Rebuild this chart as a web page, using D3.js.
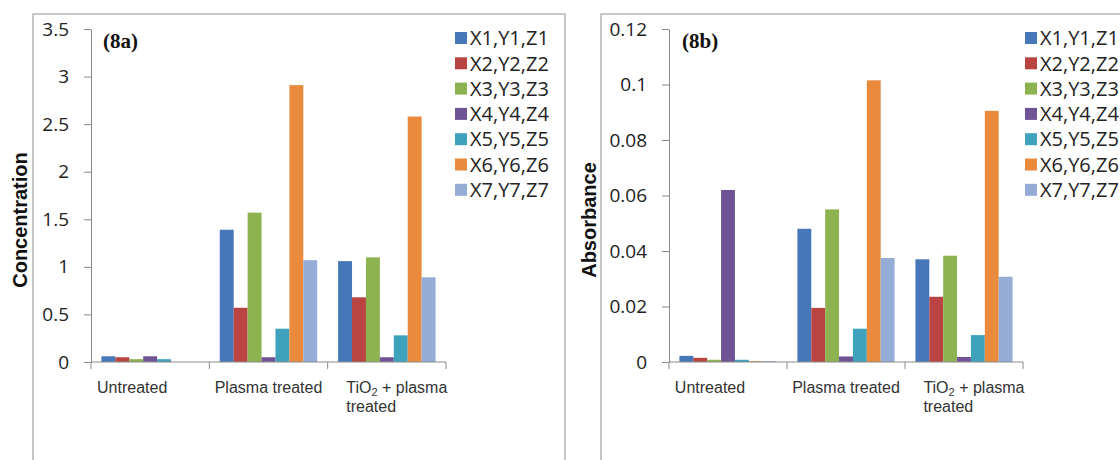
<!DOCTYPE html>
<meta charset="utf-8">
<style>

body {
  margin: 0;
  background: #fff;
}

text {
  font-family: "Open Sans", sans-serif;
}

.tick text {
  font-size: 19px;
  fill: #222;
}

.cat {
  font: 16px "Liberation Sans", Arial, sans-serif;
  fill: #333;
}

.ytitle {
  font: bold 20px "Liberation Sans", Arial, sans-serif;
  fill: #111;
}

.tag {
  font: bold 21px "Liberation Serif", "Times New Roman", serif;
  fill: #111;
}

.legend text {
  font-size: 20px;
  fill: #222;
}

</style>
<body>
<script src="https://cdn.jsdelivr.net/npm/d3@7"></script>
<script>

var categories = ["Untreated", "Plasma treated", "TiO2 + plasma treated"];
var catLines = [["Untreated"], ["Plasma treated"], ["TiO2 + plasma", "treated"]];
var series = ["X1,Y1,Z1", "X2,Y2,Z2", "X3,Y3,Z3", "X4,Y4,Z4", "X5,Y5,Z5", "X6,Y6,Z6", "X7,Y7,Z7"];
var colors = ["#4677b8", "#b94441", "#8db350", "#6f5495", "#3fa2bd", "#ea8a3c", "#94acd6"];

// (8a) concentration, one value per series
var concUntreated = [0.06, 0.05, 0.03, 0.06, 0.03, 0, 0];
var concPlasma    = [1.39, 0.57, 1.57, 0.05, 0.35, 2.91, 1.07];
var concTio2      = [1.06, 0.68, 1.10, 0.05, 0.28, 2.58, 0.89];
var concTicks = [0, 0.5, 1, 1.5, 2, 2.5, 3, 3.5];

// (8b) absorbance
var absUntreated = [0.0022, 0.0015, 0.0008, 0.062, 0.0008, 0.0003, 0.0003];
var absPlasma    = [0.048, 0.0195, 0.055, 0.002, 0.012, 0.1015, 0.0375];
var absTio2      = [0.037, 0.0235, 0.0383, 0.0018, 0.0097, 0.0905, 0.0307];
var absTicks = [0, 0.02, 0.04, 0.06, 0.08, 0.1, 0.12];

var width = 1120,
    height = 460;

var svg = d3.select("body").append("svg")
    .attr("width", width)
    .attr("height", height);

function drawPanel(p) {
  var g = svg.append("g");

  // frame
  g.append("path")
      .attr("d", "M" + p.frame[0] + "," + (height + 5) + "V" + p.frame[1] + "H" + p.frame[2] + "V" + (height + 5))
      .attr("fill", "none")
      .attr("stroke", "#b4b4b4")
      .attr("stroke-width", 1.5);

  var x0 = d3.scaleBand()
      .domain(categories)
      .range(p.xRange);

  var x1 = d3.scaleBand()
      .domain(series)
      .range([0, x0.bandwidth()])
      .paddingOuter(0.75);

  var y = d3.scaleLinear()
      .domain([0, d3.max(p.ticks)])
      .range([362, 29]);

  var rows = [p.data[0], p.data[1], p.data[2]];

  // bars
  g.selectAll(".grp")
      .data(rows)
    .enter().append("g")
      .attr("transform", function(d, i) { return "translate(" + x0(categories[i]) + ",0)"; })
    .selectAll("rect")
      .data(function(d) { return d; })
    .enter().append("rect")
      .attr("x", function(d, j) { return x1(series[j]); })
      .attr("width", x1.bandwidth())
      .attr("y", function(d) { return y(d); })
      .attr("height", function(d) { return y(0) - y(d); })
      .attr("fill", function(d, j) { return colors[j]; });

  // y axis
  var ya = g.append("g")
      .attr("transform", "translate(" + p.xRange[0] + ",0)")
      .call(d3.axisLeft(y)
        .tickValues(p.ticks)
        .tickFormat(d3.format("~g"))
        .tickSize(7)
        .tickSizeOuter(0)
        .tickPadding(15));
  ya.select(".domain").attr("stroke", "#8a8a8a");
  ya.selectAll(".tick line").attr("stroke", "#8a8a8a");
  ya.selectAll(".tick text").attr("font-family", null);

  // x axis: baseline plus boundary ticks
  g.append("line")
      .attr("x1", p.xRange[0]).attr("x2", p.xRange[1])
      .attr("y1", y(0)).attr("y2", y(0))
      .attr("stroke", "#8a8a8a");

  var bounds = categories.map(function(c) { return x0(c); }).concat([p.xRange[1]]);
  g.selectAll(".xtick")
      .data(bounds)
    .enter().append("line")
      .attr("x1", function(d) { return d; }).attr("x2", function(d) { return d; })
      .attr("y1", y(0)).attr("y2", y(0) + 7)
      .attr("stroke", "#8a8a8a");

  // category labels (lines left-aligned, block roughly centred as in the original)
  catLines.forEach(function(lines, i) {
    var cx = x0(categories[i]) + x0.bandwidth() / 2 + p.labelDx[i];
    var t = g.append("text").attr("class", "cat").attr("y", 393);
    lines.forEach(function(line, k) {
      var ln = t.append("tspan").attr("x", cx).attr("dy", k ? 19 : 0);
      if (line.indexOf("TiO2") === 0) {
        ln.text("TiO");
        t.append("tspan").attr("font-size", "11px").attr("dy", 3).text("2");
        t.append("tspan").attr("dy", -3).text(line.slice(4));
      } else {
        ln.text(line);
      }
    });
    var w = t.node().getBBox().width;
    t.selectAll("tspan").filter(function() { return this.hasAttribute("x"); })
        .attr("x", cx - w / 2);
  });

  // panel tag
  g.append("text")
      .attr("class", "tag")
      .attr("x", p.tagX)
      .attr("y", 48)
      .text(p.tag);

  // y title
  g.append("text")
      .attr("class", "ytitle")
      .attr("transform", "translate(" + p.titleX + ",220) rotate(-90)")
      .attr("text-anchor", "middle")
      .text(p.title);

  // legend
  var lg = g.append("g")
      .attr("class", "legend")
      .attr("transform", "translate(" + p.legendX + ",0)");

  var item = lg.selectAll("g")
      .data(series)
    .enter().append("g")
      .attr("transform", function(d, i) { return "translate(0," + (38 + i * 25.3) + ")"; });

  item.append("rect")
      .attr("x", 0).attr("y", -6)
      .attr("width", 12).attr("height", 12)
      .attr("fill", function(d, i) { return colors[i]; });

  item.append("text")
      .attr("x", 15)
      .attr("dy", "0.36em")
      .text(function(d) { return d; });
}

drawPanel({
  frame: [33, 14, 565],
  xRange: [91, 446],
  data: [concUntreated, concPlasma, concTio2],
  ticks: concTicks,
  labelDx: [-18, 0, 10],
  tag: "(8a)",
  tagX: 103,
  title: "Concentration",
  titleX: 27,
  legendX: 455
});

drawPanel({
  frame: [601, 14, 1125],
  xRange: [669, 1023],
  data: [absUntreated, absPlasma, absTio2],
  ticks: absTicks,
  labelDx: [-18, 0, 10],
  tag: "(8b)",
  tagX: 682,
  title: "Absorbance",
  titleX: 596,
  legendX: 1025
});

</script>
</body>
